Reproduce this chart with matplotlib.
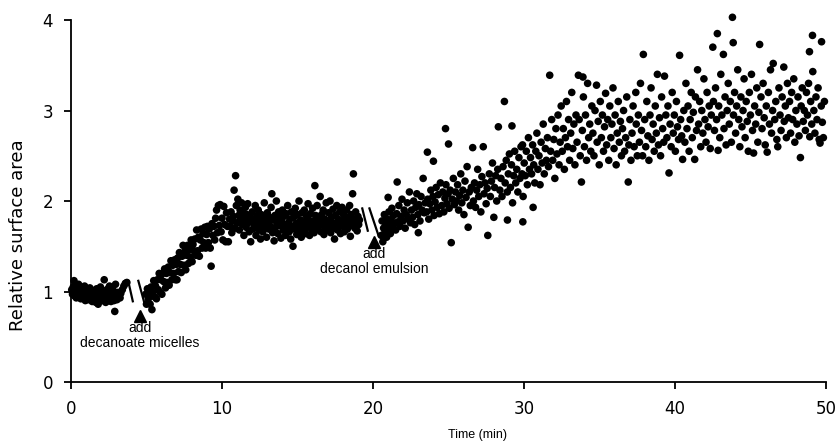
import numpy as np
import matplotlib
matplotlib.use("Agg")
import matplotlib.pyplot as plt

# baseline (0 - 4 min)
pts_base = [(0.05,1.02),(0.1,0.97),(0.15,1.05),(0.2,1.12),(0.25,0.95),(0.3,1.0),(0.35,0.93),(0.4,1.04),
    (0.45,0.98),(0.5,1.08),(0.55,0.96),(0.6,1.01),(0.65,0.92),(0.7,0.99),(0.75,1.03),(0.8,0.94),
    (0.85,0.97),(0.9,1.06),(0.95,0.9),(1.0,0.98),(1.05,0.95),(1.1,1.02),(1.15,0.91),(1.2,0.97),
    (1.25,1.04),(1.3,0.93),(1.35,0.99),(1.4,0.89),(1.45,0.96),(1.5,1.01),(1.55,0.92),(1.6,0.95),
    (1.65,0.88),(1.7,1.03),(1.75,0.94),(1.8,0.86),(1.85,0.97),(1.9,0.91),(1.95,1.05),(2.0,0.93),
    (2.05,0.98),(2.1,0.9),(2.15,1.01),(2.2,1.13),(2.25,0.95),(2.3,0.88),(2.35,0.99),(2.4,0.92),
    (2.45,1.03),(2.5,0.9),(2.55,1.06),(2.6,0.96),(2.65,0.89),(2.7,0.99),(2.75,0.93),(2.8,1.01),
    (2.85,0.9),(2.9,0.78),(2.95,1.08),(3.0,0.95),(3.05,0.91),(3.1,0.99),(3.15,0.94),(3.2,0.97),
    (3.25,0.93),(3.3,0.98),(3.4,1.02),(3.5,1.06),(3.6,1.09),(3.7,1.1)]

# after decanoate micelles (5 - 19 min)
pts_mic = [(4.95,0.97),(5.0,0.86),(5.06,1.03),(5.12,0.92),(5.18,0.98),(5.24,0.86),(5.3,1.05),(5.36,0.8),
    (5.42,0.99),(5.48,1.12),(5.54,0.94),(5.6,1.06),(5.66,0.92),(5.72,1.13),(5.78,1.02),(5.84,1.2),
    (5.9,0.99),(5.96,1.13),(6.02,0.97),(6.08,1.2),(6.14,1.11),(6.2,1.25),(6.26,1.04),(6.32,1.2),
    (6.38,1.1),(6.44,1.27),(6.5,1.07),(6.56,1.21),(6.62,1.34),(6.68,1.13),(6.74,1.29),(6.8,1.2),
    (6.86,1.35),(6.92,1.13),(6.98,1.3),(7.02,1.13),(7.06,1.37),(7.12,1.22),(7.18,1.43),(7.24,1.3),
    (7.3,1.21),(7.36,1.39),(7.42,1.51),(7.48,1.29),(7.54,1.44),(7.6,1.24),(7.66,1.4),(7.72,1.51),
    (7.78,1.31),(7.84,1.46),(7.9,1.38),(7.96,1.57),(8.02,1.33),(8.08,1.52),(8.14,1.45),(8.2,1.58),
    (8.26,1.4),(8.32,1.68),(8.38,1.45),(8.44,1.6),(8.5,1.39),(8.56,1.57),(8.62,1.69),(8.68,1.48),
    (8.74,1.64),(8.8,1.54),(8.86,1.71),(8.92,1.48),(8.98,1.63),(9.04,1.72),(9.1,1.54),(9.16,1.69),
    (9.22,1.48),(9.28,1.28),(9.34,1.75),(9.4,1.62),(9.46,1.72),(9.52,1.57),(9.58,1.81),(9.64,1.9),
    (9.7,1.65),(9.76,1.95),(9.82,1.73),(9.88,1.96),(9.94,1.66),(10.0,1.81),(10.06,1.57),(10.12,1.94),
    (10.18,1.74),(10.24,1.55),(10.3,1.87),(10.36,1.72),(10.42,1.55),
    (10.5,1.8),(10.55,1.72),(10.6,1.88),(10.65,1.65),(10.7,1.78),(10.75,1.83),(10.8,2.12),(10.85,1.7),
    (10.9,2.28),(10.95,1.95),(11.0,1.76),(11.05,2.02),(11.1,1.84),(11.15,1.68),(11.2,1.9),(11.25,1.8),
    (11.3,1.98),(11.35,1.74),(11.4,1.86),(11.45,1.62),(11.5,1.79),(11.55,1.93),(11.6,1.71),(11.65,1.85),
    (11.7,1.97),(11.75,1.76),(11.8,1.66),(11.85,1.82),(11.9,1.55),(11.95,1.78),(12.0,1.88),(12.05,1.69),
    (12.1,1.8),(12.15,1.74),(12.2,1.95),(12.25,1.62),(12.3,1.83),(12.35,1.72),(12.4,1.9),(12.45,1.68),
    (12.5,1.77),(12.55,1.58),(12.6,1.85),(12.65,1.73),(12.7,1.66),(12.75,1.81),(12.8,1.98),(12.85,1.7),
    (12.9,1.78),(12.95,1.6),(13.0,1.87),(13.05,1.75),(13.1,1.69),(13.15,1.82),(13.2,1.72),(13.25,1.93),
    (13.3,2.08),(13.35,1.65),(13.4,1.79),(13.45,1.56),(13.5,1.84),(13.55,1.71),(13.6,2.0),(13.65,1.76),
    (13.7,1.64),(13.75,1.88),(13.8,1.73),(13.85,1.81),(13.9,1.59),(13.95,1.77),(14.0,1.9),(14.05,1.68),
    (14.1,1.83),(14.15,1.74),(14.2,1.62),(14.25,1.86),(14.3,1.7),(14.35,1.95),(14.4,1.76),(14.45,1.66),
    (14.5,1.8),(14.55,1.58),(14.6,1.88),(14.65,1.72),(14.7,1.5),(14.75,1.82),(14.8,1.69),(14.85,1.92),
    (14.9,1.75),(14.95,1.63),(15.0,1.85),(15.05,1.73),(15.1,2.0),(15.15,1.67),(15.2,1.79),(15.25,1.6),
    (15.3,1.87),(15.35,1.74),(15.4,1.68),(15.45,1.9),(15.5,1.77),(15.55,1.64),(15.6,1.83),(15.65,1.71),
    (15.7,1.97),(15.75,1.79),(15.8,1.62),(15.85,1.86),(15.9,1.73),(15.95,1.68),(16.0,1.92),(16.05,1.78),
    (16.1,1.65),(16.15,2.17),(16.2,1.84),(16.25,1.72),(16.3,1.95),(16.35,1.69),(16.4,1.8),(16.45,1.76),
    (16.5,2.05),(16.55,1.66),(16.6,1.85),(16.65,1.74),(16.7,1.9),(16.75,1.63),(16.8,1.8),(16.85,1.71),
    (16.9,1.98),(16.95,1.77),(17.0,1.68),(17.05,1.87),(17.1,1.74),(17.15,2.0),(17.2,1.65),(17.25,1.82),
    (17.3,1.76),(17.35,1.91),(17.4,1.7),(17.45,1.58),(17.5,1.84),(17.55,1.75),(17.6,1.95),(17.65,1.68),
    (17.7,1.8),(17.75,1.73),(17.8,1.88),(17.85,1.64),(17.9,1.78),(17.95,1.93),(18.0,1.72),(18.05,1.85),
    (18.1,1.66),(18.15,1.79),(18.2,1.74),(18.25,1.9),(18.3,1.69),(18.35,1.82),(18.4,1.77),(18.45,1.95),
    (18.5,1.61),(18.55,1.85),(18.6,1.73),(18.65,2.08),(18.7,2.3),(18.75,1.8),(18.8,1.7),(18.85,1.88),
    (18.9,1.76),(18.95,1.67),(19.0,1.83),(19.05,1.74),(19.1,1.79)]

# after decanol emulsion (20.5 - 50 min)
pts_emu = [(20.55,1.62),(20.6,1.78),(20.65,1.55),(20.7,1.7),(20.75,1.85),(20.8,1.66),(20.85,1.74),
    (20.9,1.6),(20.95,1.8),(21.0,2.04),(21.0,1.69),(21.05,1.88),(21.1,1.73),(21.15,1.64),(21.2,1.79),
    (21.25,1.92),(21.3,1.7),(21.35,1.84),(21.4,1.75),(21.5,1.68),(21.57,1.86),(21.6,2.21),(21.64,1.77),
    (21.71,1.95),(21.78,1.72),(21.85,1.83),(21.92,2.02),(21.99,1.78),(22.06,1.9),(22.13,1.7),(22.2,1.85),
    (22.27,1.98),(22.34,1.8),(22.41,2.1),(22.48,1.76),(22.55,1.9),(22.62,1.82),(22.69,2.0),(22.76,1.74),
    (22.83,1.93),(22.9,2.08),(22.97,1.85),(23.0,1.65),(23.04,1.96),(23.11,1.78),(23.18,2.05),(23.25,1.9),
    (23.32,2.25),(23.39,1.87),(23.46,1.98),(23.55,1.88),(23.6,2.54),(23.62,2.02),(23.69,1.8),(23.76,1.97),
    (23.83,2.12),(23.9,1.9),(23.97,2.05),(24.0,2.44),(24.04,1.84),(24.11,1.99),(24.18,2.15),(24.25,1.93),
    (24.32,2.07),(24.39,1.86),(24.46,2.2),(24.55,1.95),(24.62,2.1),(24.69,1.88),(24.76,2.03),(24.8,2.8),
    (24.83,2.18),(24.9,1.97),(24.97,2.08),(25.0,2.63),(25.04,1.92),(25.11,2.12),(25.18,1.54),(25.25,2.02),
    (25.32,2.25),(25.39,1.96),(25.46,2.1),(25.53,2.0),(25.6,2.18),(25.67,1.9),(25.74,2.06),(25.81,2.3),
    (25.88,1.98),(25.95,2.12),(26.02,1.85),(26.09,2.22),(26.16,2.04),(26.23,2.38),(26.3,1.71),(26.37,2.1),
    (26.44,1.95),(26.51,2.15),(26.6,2.59),(26.65,2.0),(26.72,2.2),(26.79,1.93),(26.86,2.12),(26.93,2.35),
    (27.0,2.05),(27.07,2.18),(27.14,1.88),(27.21,2.27),(27.3,2.6),(27.35,2.08),(27.42,2.2),(27.49,1.97),
    (27.56,2.14),(27.6,1.62),(27.7,2.3),(27.77,2.05),(27.84,2.22),(27.91,2.42),(28.0,1.82),(28.05,2.15),
    (28.12,2.28),(28.19,2.0),(28.26,2.35),(28.3,2.82),(28.4,2.12),(28.47,2.25),(28.54,2.05),(28.61,2.38),
    (28.7,3.1),(28.75,2.2),(28.82,2.45),(28.89,2.1),(28.9,1.79),(28.96,2.3),(29.03,2.52),(29.1,2.15),
    (29.17,2.4),(29.2,2.83),(29.24,1.98),(29.31,2.28),(29.38,2.55),(29.45,2.2),(29.52,2.35),(29.59,2.1),
    (29.66,2.48),(29.73,2.25),(29.8,2.6),(29.87,2.3),(29.9,2.62),(29.92,1.77),(29.94,2.05),(30.01,2.42),
    (30.08,2.28),(30.15,2.55),(30.22,2.18),(30.29,2.7),(30.36,2.35),(30.43,2.48),(30.5,2.3),(30.57,2.62),
    (30.6,1.93),(30.64,2.4),(30.71,2.2),(30.78,2.55),(30.85,2.75),(30.92,2.35),(30.99,2.5),(31.06,2.18),
    (31.13,2.65),(31.2,2.42),(31.27,2.85),(31.34,2.3),(31.41,2.58),(31.48,2.45),(31.55,2.7),(31.62,2.38),
    (31.7,3.39),(31.76,2.55),(31.83,2.9),(31.9,2.45),(31.97,2.68),(32.04,2.25),(32.11,2.8),(32.18,2.52),
    (32.25,2.95),(32.32,2.4),(32.39,2.65),(32.46,3.05),(32.53,2.55),(32.6,2.8),(32.67,2.35),(32.74,2.7),
    (32.81,3.1),(32.88,2.6),(32.95,2.9),(33.02,2.45),(33.09,2.75),(33.16,3.2),(33.23,2.58),(33.3,2.85),
    (33.37,2.4),(33.44,2.95),(33.51,2.65),(33.6,3.39),(33.65,2.9),(33.72,2.5),(33.8,2.21),(33.86,2.78),
    (33.9,3.37),(33.93,3.15),(34.0,2.6),(34.07,2.95),(34.14,2.45),(34.21,3.3),(34.28,2.7),(34.35,2.85),
    (34.42,2.55),(34.49,3.05),(34.56,2.75),(34.63,2.5),(34.7,3.0),(34.8,3.28),(34.84,2.65),(34.91,2.88),
    (34.98,2.4),(35.05,3.1),(35.12,2.7),(35.19,2.95),(35.26,2.55),(35.33,2.82),(35.4,3.19),(35.47,2.62),
    (35.54,2.9),(35.61,2.45),(35.68,3.05),(35.75,2.7),(35.82,2.85),(35.89,3.25),(35.96,2.58),(36.03,2.95),
    (36.1,2.4),(36.17,2.75),(36.24,3.1),(36.31,2.65),(36.38,2.88),(36.45,2.5),(36.52,2.8),(36.59,3.0),
    (36.66,2.55),(36.73,2.7),(36.8,3.15),(36.9,2.21),(36.94,2.62),(37.01,2.9),(37.08,2.45),(37.15,2.75),
    (37.22,3.05),(37.29,2.6),(37.4,3.2),(37.43,2.85),(37.5,2.5),(37.57,2.95),(37.64,2.65),(37.71,3.3),
    (37.78,2.78),(37.85,2.5),(37.9,3.62),(37.99,2.9),(38.06,2.6),(38.13,3.1),(38.2,2.72),(38.27,2.45),
    (38.34,2.95),(38.41,3.25),(38.48,2.68),(38.55,2.85),(38.62,2.55),(38.69,3.05),(38.76,2.75),(38.83,3.4),
    (38.9,2.62),(38.97,2.92),(39.04,2.5),(39.11,3.15),(39.18,2.8),(39.25,2.65),(39.3,3.38),(39.39,2.95),
    (39.46,2.7),(39.53,3.05),(39.6,2.31),(39.67,2.85),(39.74,2.6),(39.81,3.2),(39.88,2.75),(39.95,2.95),
    (40.02,2.55),(40.09,3.1),(40.16,2.82),(40.23,2.68),(40.3,3.61),(40.37,2.9),(40.44,2.72),(40.5,2.46),
    (40.58,3.0),(40.65,2.65),(40.72,3.3),(40.79,2.8),(40.86,3.05),(40.93,2.55),(41.0,2.9),(41.07,3.2),
    (41.14,2.7),(41.21,2.98),(41.3,2.46),(41.35,3.15),(41.42,2.78),(41.49,3.45),(41.56,2.85),(41.63,3.1),
    (41.7,2.6),(41.77,3.0),(41.84,2.75),(41.91,3.35),(41.98,2.9),(42.05,2.65),(42.12,3.2),(42.19,2.82),
    (42.26,3.05),(42.33,2.58),(42.4,2.95),(42.5,3.7),(42.54,3.1),(42.61,2.78),(42.68,3.25),(42.75,2.9),
    (42.8,3.85),(42.85,2.56),(42.89,3.05),(42.96,2.7),(43.03,3.4),(43.1,2.95),(43.2,3.62),(43.24,2.8),
    (43.31,3.15),(43.38,2.62),(43.45,3.0),(43.52,3.3),(43.59,2.85),(43.66,3.1),(43.73,2.65),(43.8,4.03),
    (43.85,3.75),(43.87,2.95),(43.94,3.2),(44.01,2.75),(44.08,3.05),(44.15,3.45),(44.22,2.9),(44.29,2.6),
    (44.36,3.15),(44.43,2.82),(44.5,3.0),(44.57,3.35),(44.64,2.7),(44.71,3.1),(44.78,2.88),(44.85,2.55),
    (44.92,3.2),(44.99,2.95),(45.06,3.4),(45.13,2.78),(45.2,2.53),(45.27,3.05),(45.34,2.85),(45.41,3.25),
    (45.48,2.65),(45.55,2.98),(45.6,3.73),(45.69,3.15),(45.76,2.8),(45.83,3.3),(45.9,2.92),(45.97,2.62),
    (46.04,3.05),(46.1,2.54),(46.18,3.2),(46.25,2.85),(46.32,3.45),(46.39,2.75),(46.46,3.0),(46.5,3.52),
    (46.6,2.9),(46.67,3.1),(46.74,2.68),(46.8,2.6),(46.88,3.25),(46.95,2.95),(47.02,2.78),(47.09,3.15),
    (47.2,3.48),(47.23,2.88),(47.3,3.05),(47.37,2.7),(47.44,3.3),(47.51,2.92),(47.58,3.1),(47.65,2.75),
    (47.72,3.2),(47.79,2.9),(47.86,3.35),(47.93,2.65),(48.0,3.0),(48.07,2.85),(48.14,3.15),(48.21,2.72),
    (48.3,2.48),(48.35,3.05),(48.42,3.25),(48.49,2.88),(48.56,3.0),(48.63,2.78),(48.7,3.2),(48.77,2.95),
    (48.84,3.3),(48.9,3.65),(48.92,2.71),(48.98,3.1),(49.05,2.85),(49.1,3.83),(49.12,3.43),(49.19,3.0),
    (49.26,2.75),(49.33,3.15),(49.4,2.9),(49.47,3.25),(49.54,2.68),(49.6,2.64),(49.68,3.05),(49.7,3.76),
    (49.75,2.87),(49.82,2.7),(49.89,3.1)]

# axis break marks (t0, y0, t1, y1) and additions
breaks = [(3.77, 1.13, 4.11, 0.88), (4.44, 1.13, 4.90, 0.85),
          (19.27, 1.93, 19.67, 1.66), (19.74, 1.93, 20.40, 1.60)]
add_t = [4.57, 20.07]
add_y = [0.73, 1.55]
add_labels = ["decanoate micelles", "decanol emulsion"]

x_ticks = [0, 10, 20, 30, 40, 50]
y_ticks = [0, 1, 2, 3, 4]

fig = plt.figure(figsize=(8.39, 4.42), dpi=100)
ax = fig.add_axes([0.0846, 0.1357, 0.9, 0.819])

for pts in (pts_base, pts_mic, pts_emu):
    t, y = np.array(pts).T
    ax.scatter(t, y, s=30, c="black", edgecolors="none", clip_on=False, zorder=3)

for t0, y0, t1, y1 in breaks:
    ax.plot([t0, t1], [y0, y1], color="black", lw=1.6, solid_capstyle="butt")

ax.plot(add_t, add_y, "^", color="black", ms=8, ls="none")
for t, y, lab in zip(add_t, add_y, add_labels):
    ax.text(t, y - 0.13, "add", ha="center", va="center", fontsize=10, family="Liberation Sans")
    ax.text(t, y - 0.30, lab, ha="center", va="center", fontsize=10, family="Liberation Sans")

ax.set_xlim(0, 50)
ax.set_ylim(0, 4)
ax.set_xticks(x_ticks)
ax.set_yticks(y_ticks)
ax.tick_params(direction="out", length=5, width=1.3, labelsize=12, pad=8)
for lab in ax.get_xticklabels() + ax.get_yticklabels():
    lab.set_family("DejaVu Sans")
ax.spines["top"].set_visible(False)
ax.spines["right"].set_visible(False)
ax.spines["left"].set_linewidth(1.3)
ax.spines["bottom"].set_linewidth(1.3)

fig.text(478 / 839, 1 - 435 / 442, "Time (min)", ha="center", va="center",
         fontsize=9, family="Liberation Sans")
fig.text(18.5 / 839, 1 - 235 / 442, "Relative surface area", ha="center", va="center",
         rotation=90, fontsize=13, family="DejaVu Sans")

fig.savefig("out.png", dpi=100)
